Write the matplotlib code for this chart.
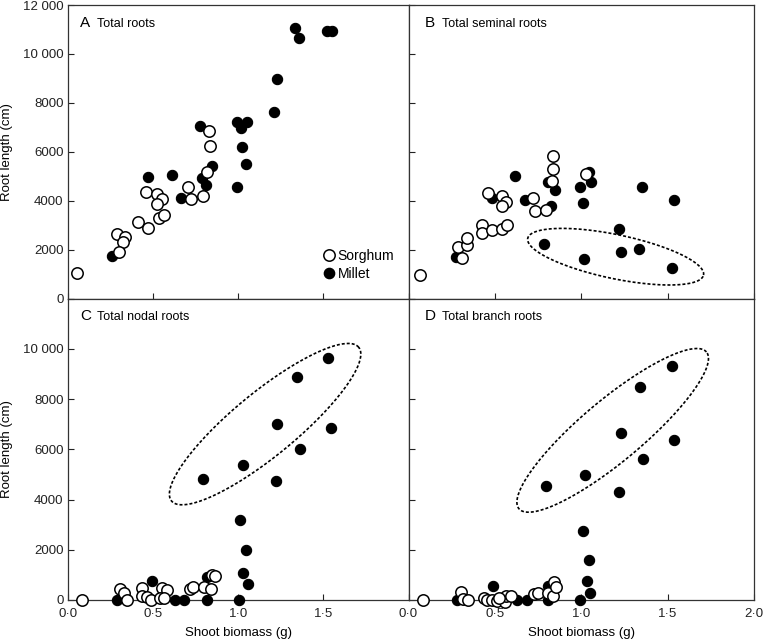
import numpy as np
import matplotlib
matplotlib.use('Agg')
import matplotlib.pyplot as plt
from matplotlib.lines import Line2D

plt.rcParams['font.family'] = ['Liberation Sans', 'DejaVu Sans']

# A - total roots
sorghum_total_x = [0.05, 0.285, 0.333, 0.324, 0.30, 0.412, 0.467, 0.457, 0.524, 0.549,
                   0.524, 0.535, 0.565, 0.706, 0.722, 0.79, 0.814, 0.83, 0.834]
sorghum_total_y = [1055, 2640, 2530, 2320, 1910, 3140, 2870, 4370, 4270, 4050,
                   3850, 3280, 3410, 4550, 4070, 4190, 5180, 6860, 6250]
millet_total_x = [0.255, 0.471, 0.608, 0.663, 0.775, 0.785, 0.81, 0.843, 0.99, 0.99,
                  1.016, 1.024, 1.049, 1.043, 1.212, 1.225, 1.334, 1.359, 1.52, 1.553]
millet_total_y = [1750, 4980, 5050, 4100, 7050, 4940, 4640, 5430, 4570, 7200,
                  6960, 6210, 7200, 5490, 7640, 8980, 11050, 10660, 10940, 10940]

# B - seminal roots
sorghum_seminal_x = [0.067, 0.312, 0.289, 0.341, 0.337, 0.428, 0.428, 0.486, 0.54, 0.573,
                     0.463, 0.544, 0.563, 0.54, 0.722, 0.733, 0.795, 0.83, 0.838, 0.838, 1.027]
sorghum_seminal_y = [960, 1670, 2120, 2190, 2460, 3000, 2690, 2800, 2830, 3000,
                     4300, 4190, 3960, 3780, 4100, 3580, 3620, 4820, 5290, 5840, 5080]
millet_seminal_x = [0.273, 0.486, 0.617, 0.673, 0.824, 0.847, 0.81, 0.994, 1.008, 1.046,
                    1.056, 0.786, 1.017, 1.216, 1.352, 1.535, 1.23, 1.336, 1.524]
millet_seminal_y = [1710, 4100, 5020, 4030, 3800, 4440, 4780, 4550, 3920, 5160,
                    4780, 2215, 1615, 2840, 4570, 4030, 1915, 2040, 1260]

# C - nodal roots
sorghum_nodal_x = [0.079, 0.304, 0.33, 0.343, 0.432, 0.432, 0.465, 0.485, 0.55, 0.582,
                   0.54, 0.563, 0.716, 0.732, 0.798, 0.838, 0.843, 0.863]
sorghum_nodal_y = [0, 427, 267, 0, 467, 173, 133, 0, 467, 400,
                   67, 67, 440, 533, 507, 440, 1000, 960]
millet_nodal_x = [0.285, 0.49, 0.628, 0.68, 0.814, 0.814, 1.004, 1.026, 1.059, 1.045,
                  1.01, 0.794, 1.025, 1.222, 1.225, 1.363, 1.545, 1.343, 1.529]
millet_nodal_y = [0, 760, 0, 0, 0, 933, 0, 1093, 627, 1973,
                  3187, 4827, 5373, 4733, 7000, 6027, 6840, 8893, 9640]

# D - branch roots
sorghum_branch_x = [0.084, 0.306, 0.315, 0.345, 0.438, 0.457, 0.486, 0.515, 0.56, 0.563,
                    0.592, 0.525, 0.728, 0.747, 0.805, 0.843, 0.838, 0.853]
sorghum_branch_y = [0, 304, 30, 0, 64, 0, 0, -30, -60, 172,
                    150, 70, 240, 280, 280, 732, 150, 500]
millet_branch_x = [1.526, 1.338, 1.23, 1.539, 1.359, 1.021, 1.22, 0.795, 1.012, 1.042,
                   1.031, 1.052, 0.992, 0.492, 0.685, 0.81, 0.627, 0.283, 0.809]
millet_branch_y = [9330, 8460, 6640, 6370, 5600, 4970, 4280, 4545, 2745, 1600,
                   745, 265, 0, 545, 0, 0, 0, 0, 570]

panel_letters = ['A', 'B', 'C', 'D']
panel_titles = ['Total roots', 'Total seminal roots', 'Total nodal roots', 'Total branch roots']
x_ticks = [0.0, 0.5, 1.0, 1.5, 2.0]
y_ticks = [0, 2000, 4000, 6000, 8000, 10000, 12000]

FS = 9.5
W, H = 764, 640


def fmt_y(v):
    v = int(v)
    if v >= 10000:
        return f'{v // 1000} {v % 1000:03d}'
    return str(v)


def fmt_x(v):
    return f'{v:.1f}'.replace('.', '\u00b7')


def px_axes(l, t, r, b):
    return [l / W, 1 - b / H, (r - l) / W, (b - t) / H]


def draw_ellipse(ax, center, a_px, b_px, ang):
    # ellipse built in screen pixels and put back in data units
    t = np.linspace(0, 2 * np.pi, 300)
    th = np.deg2rad(ang)
    u = a_px * np.cos(t) * np.cos(th) - b_px * np.sin(t) * np.sin(th)
    v = a_px * np.cos(t) * np.sin(th) + b_px * np.sin(t) * np.cos(th)
    c = ax.transData.transform(center)
    pts = ax.transData.inverted().transform(np.column_stack([c[0] + u, c[1] + v]))
    ax.plot(pts[:, 0], pts[:, 1], color='black', lw=1.2, ls=(0, (1.8, 1.2)), clip_on=False)


fig = plt.figure(figsize=(W / 100, H / 100), dpi=100)

ax_a = fig.add_axes(px_axes(68.3, 5, 408.5, 298.5))
ax_b = fig.add_axes(px_axes(408.5, 5, 754, 298.5))
ax_c = fig.add_axes(px_axes(68.3, 298.5, 408.5, 600))
ax_d = fig.add_axes(px_axes(408.5, 298.5, 754, 600))
axes = [ax_a, ax_b, ax_c, ax_d]

data = [
    (sorghum_total_x, sorghum_total_y, millet_total_x, millet_total_y),
    (sorghum_seminal_x, sorghum_seminal_y, millet_seminal_x, millet_seminal_y),
    (sorghum_nodal_x, sorghum_nodal_y, millet_nodal_x, millet_nodal_y),
    (sorghum_branch_x, sorghum_branch_y, millet_branch_x, millet_branch_y),
]

for i, ax in enumerate(axes):
    sx, sy, mx, my = data[i]
    ax.plot(mx, my, 'o', ms=7.4, mfc='black', mec='black', mew=0.8, clip_on=False, zorder=3)
    ax.plot(sx, sy, 'o', ms=8.2, mfc='white', mec='black', mew=1.1, clip_on=False, zorder=4)

    ax.set_xlim(0, 2.0)
    ax.set_ylim(0, 12000)
    ax.set_xticks(x_ticks)
    ax.set_yticks(y_ticks)
    ax.tick_params(direction='in', length=4, width=0.8, labelsize=FS, colors='#222222')
    ax.tick_params(axis='x', pad=6)
    for sp in ax.spines.values():
        sp.set_linewidth(0.9)
        sp.set_color('#333333')

    left = i in (0, 2)
    bottom = i in (2, 3)
    if left:
        labs = [fmt_y(v) for v in y_ticks]
        if i == 2:
            labs[-1] = ''
        ax.set_yticklabels(labs)
        ax.set_ylabel('Root length (cm)', fontsize=FS, labelpad=7)
    else:
        ax.set_yticklabels([])
    if bottom:
        labs = [fmt_x(v) for v in x_ticks]
        if i == 2:
            labs[-1] = ''
        ax.set_xticklabels(labs)
        ax.set_xlabel('Shoot biomass (g)', fontsize=FS, labelpad=5)
    else:
        ax.set_xticklabels([])

    # panel label
    ax.annotate(panel_letters[i], xy=(0, 1), xycoords='axes fraction',
                xytext=(12 if left else 16, -22), textcoords='offset pixels',
                fontsize=11, va='baseline', ha='left')
    ax.annotate(panel_titles[i], xy=(0, 1), xycoords='axes fraction',
                xytext=(28.5 if left else 33, -22), textcoords='offset pixels',
                fontsize=9, va='baseline', ha='left')

# ellipses around millet groups
draw_ellipse(ax_b, (1.199, 1709), 89.8, 22.0, -11.8)
draw_ellipse(ax_c, (1.157, 7000), 121.1, 31.7, 39.4)
draw_ellipse(ax_d, (1.182, 6752), 122.2, 30.7, 39.9)

h1 = Line2D([0], [0], marker='o', ls='None', mfc='white', mec='black', ms=8.2, mew=1.1, label='Sorghum')
h2 = Line2D([0], [0], marker='o', ls='None', mfc='black', mec='black', ms=7.4, label='Millet')
ax_a.legend(handles=[h1, h2], loc='lower right', bbox_to_anchor=(0.958, 0.06), frameon=False,
            handlelength=0.8, handletextpad=0.2, labelspacing=0.3, borderpad=0,
            borderaxespad=0, fontsize=FS + 0.5)

fig.savefig('out.png', dpi=100)
